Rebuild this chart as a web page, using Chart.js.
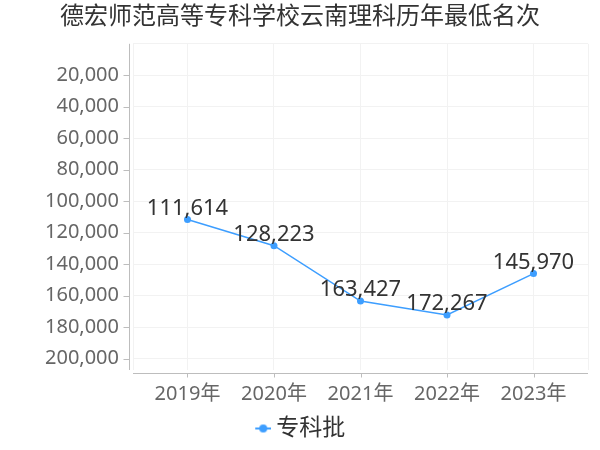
<!DOCTYPE html>
<html>
<head>
<meta charset="utf-8">
<script src="https://cdn.jsdelivr.net/npm/chart.js@4/dist/chart.umd.min.js"></script>
<style>
html,body{margin:0;padding:0;background:#fff;}
#wrap{width:600px;height:450px;position:relative;}
</style>
</head>
<body>
<div id="wrap"><canvas id="c" width="600" height="450"></canvas></div>
<script>
const titleText = '德宏师范高等专科学校云南理科历年最低名次';
const categories = ['2019年', '2020年', '2021年', '2022年', '2023年'];
const seriesName = '专科批';
const seriesValues = [111614, 128223, 163427, 172267, 145970];
const yTickValues = [0, 20000, 40000, 60000, 80000, 100000, 120000, 140000, 160000, 180000, 200000];

const FONT = '"Noto Sans", "Noto Sans CJK SC", sans-serif';
const LINE_COLOR = '#3d9eff';
const AXIS_COLOR = '#bdbdbd';
const GRID_COLOR = '#f2f2f2';

// legend icon: short line with a dot (placed in the right part of a transparent canvas)
const icon = document.createElement('canvas');
icon.width = 23; icon.height = 10;
(function(){
  const g = icon.getContext('2d');
  g.strokeStyle = LINE_COLOR; g.lineWidth = 2;
  g.beginPath(); g.moveTo(7, 5); g.lineTo(23, 5); g.stroke();
  g.fillStyle = LINE_COLOR;
  g.beginPath(); g.arc(15, 5, 4, 0, Math.PI * 2); g.fill();
})();

const axisPlugin = {
  id: 'axisLines',
  afterDraw(chart) {
    const {ctx, chartArea} = chart;
    const xs = chart.scales.x, ys = chart.scales.y;
    ctx.save();
    ctx.strokeStyle = AXIS_COLOR;
    ctx.lineWidth = 1;
    const ax = chartArea.left - 3.5;
    ctx.beginPath(); ctx.moveTo(ax, chartArea.top); ctx.lineTo(ax, chartArea.bottom); ctx.stroke();
    yTickValues.forEach(v => {
      if (v === 0) return;
      const py = Math.round(ys.getPixelForValue(v)) + 0.5;
      ctx.beginPath(); ctx.moveTo(ax, py); ctx.lineTo(ax - 6, py); ctx.stroke();
    });
    const ay = chartArea.bottom + 3.5;
    ctx.beginPath(); ctx.moveTo(chartArea.left, ay); ctx.lineTo(chartArea.right, ay); ctx.stroke();
    categories.forEach((c, i) => {
      const px = Math.round(xs.getPixelForValue(i)) + 0.5;
      ctx.beginPath(); ctx.moveTo(px, ay); ctx.lineTo(px, ay + 4); ctx.stroke();
    });
    ctx.restore();
  }
};

const labelPlugin = {
  id: 'pointLabels',
  afterDatasetsDraw(chart) {
    const {ctx} = chart;
    const meta = chart.getDatasetMeta(0);
    ctx.save();
    ctx.font = '22px ' + FONT;
    ctx.fillStyle = '#333333';
    ctx.textAlign = 'center';
    ctx.textBaseline = 'alphabetic';
    meta.data.forEach((pt, i) => {
      ctx.fillText(seriesValues[i].toLocaleString('en-US'), pt.x, pt.y - 5);
    });
    ctx.restore();
  }
};

new Chart(document.getElementById('c'), {
  type: 'line',
  data: {
    datasets: [{
      label: seriesName,
      data: seriesValues.map((v, i) => ({x: i, y: v})),
      borderColor: LINE_COLOR,
      backgroundColor: LINE_COLOR,
      borderWidth: 1.5,
      pointRadius: 3.5,
      pointHoverRadius: 3.5,
      pointBackgroundColor: LINE_COLOR,
      pointBorderWidth: 0,
      tension: 0,
      fill: false
    }]
  },
  options: {
    responsive: false,
    animation: false,
    devicePixelRatio: 1,
    layout: {padding: {left: 0, right: 0, top: 0, bottom: 0}},
    plugins: {
      title: {
        display: true,
        text: titleText,
        color: '#333333',
        font: {family: FONT, size: 24, weight: 'normal'},
        padding: {top: 3, bottom: 12}
      },
      legend: {
        display: true,
        position: 'bottom',
        labels: {
          color: '#333333',
          font: {family: FONT, size: 23},
          usePointStyle: true,
          pointStyleWidth: 10,
          padding: 2,
          generateLabels(chart) {
            return [{text: seriesName, pointStyle: icon, fillStyle: LINE_COLOR, strokeStyle: LINE_COLOR, lineWidth: 0, datasetIndex: 0, fontColor: '#333333'}];
          }
        }
      },
      tooltip: {enabled: false}
    },
    scales: {
      x: {
        type: 'linear',
        min: -0.63,
        max: 4.63,
        afterBuildTicks(scale) {
          const t = [{value: -0.63}];
          categories.forEach((c, i) => t.push({value: i}));
          t.push({value: 4.63});
          scale.ticks = t;
        },
        afterFit(scale) { scale.height = 45; },
        ticks: {
          autoSkip: false,
          maxRotation: 0,
          color: '#666666',
          font: {family: FONT, size: 20},
          padding: 12,
          callback(v) { return Number.isInteger(v) ? categories[v] : ''; }
        },
        grid: {color: GRID_COLOR, drawTicks: false},
        border: {display: false}
      },
      y: {
        type: 'linear',
        reverse: true,
        min: 0,
        max: 207200,
        afterBuildTicks(scale) {
          scale.ticks = yTickValues.map(v => ({value: v}));
        },
        afterFit(scale) { scale.width = 133; },
        ticks: {
          color: '#666666',
          font: {family: FONT, size: 20},
          padding: 14,
          callback(v) { return v === 0 ? '' : v.toLocaleString('en-US'); }
        },
        grid: {color: GRID_COLOR, drawTicks: false},
        border: {display: false}
      },
      yRight: {
        type: 'linear',
        position: 'right',
        display: true,
        afterFit(scale) { scale.width = 12; },
        ticks: {display: false},
        grid: {display: false, drawTicks: false},
        border: {display: false}
      }
    }
  },
  plugins: [axisPlugin, labelPlugin]
});
</script>
</body>
</html>
